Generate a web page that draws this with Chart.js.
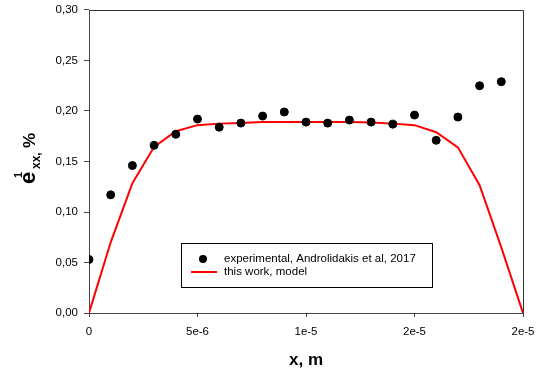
<!DOCTYPE html>
<html>
<head>
<meta charset="utf-8">
<script src="https://cdn.jsdelivr.net/npm/chart.js@4.4.1/dist/chart.umd.min.js"></script>
<style>
  html, body { margin: 0; padding: 0; background: #fff; }
  #wrap { width: 539px; height: 372px; }
</style>
</head>
<body>
<div id="wrap"><canvas id="strainChart" width="539" height="372"></canvas></div>
<script>
// experimental points
const xExp = [0, 1e-6, 2e-6, 3e-6, 4e-6, 5e-6, 6e-6, 7e-6, 8e-6, 9e-6,
              1e-5, 1.1e-5, 1.2e-5, 1.3e-5, 1.4e-5, 1.5e-5, 1.6e-5, 1.7e-5, 1.8e-5, 1.9e-5];
const yExp = [0.053, 0.117, 0.146, 0.166, 0.177, 0.192, 0.184, 0.188, 0.195, 0.199,
              0.189, 0.188, 0.191, 0.189, 0.187, 0.196, 0.171, 0.194, 0.225, 0.229];

// model curve
const xModel = [0, 1e-6, 2e-6, 3e-6, 4e-6, 5e-6, 6e-6, 7e-6, 8e-6, 9e-6, 1e-5,
                1.1e-5, 1.2e-5, 1.3e-5, 1.4e-5, 1.5e-5, 1.6e-5, 1.7e-5, 1.8e-5, 1.9e-5, 2e-5];
const yModel = [0, 0.07, 0.1285, 0.1645, 0.180, 0.186, 0.1875, 0.188, 0.189, 0.189, 0.189,
                0.189, 0.189, 0.1885, 0.1875, 0.186, 0.179, 0.164, 0.1265, 0.065, 0];

const xTickLabels = ['0', '5e-6', '1e-5', '2e-5', '2e-5'];
const yTickLabels = ['0,00', '0,05', '0,10', '0,15', '0,20', '0,25', '0,30'];
const seriesNames = ['experimental, Androlidakis et al, 2017', 'this work, model'];

const FONT = '"Liberation Sans", Arial, sans-serif';

function toPoints(xs, ys) {
    return xs.map((x, i) => ({ x: x, y: ys[i] }));
}

// frame, axis titles and the boxed legend
const decorations = {
    id: 'decorations',
    afterDraw(chart) {
        const ctx = chart.ctx;
        const a = chart.chartArea;
        ctx.save();

        ctx.strokeStyle = '#333';
        ctx.lineWidth = 1;
        ctx.beginPath();
        ctx.moveTo(a.left, a.top + 0.5);
        ctx.lineTo(a.right + 0.5, a.top + 0.5);
        ctx.lineTo(a.right + 0.5, a.bottom);
        ctx.stroke();

        ctx.fillStyle = '#000';

        // x title
        ctx.font = 'bold 17px ' + FONT;
        ctx.textAlign = 'center';
        ctx.textBaseline = 'alphabetic';
        ctx.fillText('x, m', 306, 365);

        // y title e^1_xx, %
        ctx.translate(35, 184);
        ctx.rotate(-Math.PI / 2);
        ctx.textAlign = 'left';
        ctx.font = 'bold 22px ' + FONT;
        ctx.fillText('e', 0, 0);
        ctx.font = 'bold 11px ' + FONT;
        ctx.fillText('1', 6, -13);
        ctx.font = 'bold 12px ' + FONT;
        ctx.fillText('xx,', 15, 5);
        ctx.font = 'bold 17px ' + FONT;
        ctx.fillText('%', 36, 0);
        ctx.setTransform(1, 0, 0, 1, 0, 0);

        // legend
        ctx.strokeStyle = '#000';
        ctx.lineWidth = 1;
        ctx.strokeRect(181.5, 243.5, 251, 44);
        ctx.beginPath();
        ctx.arc(203, 259, 4, 0, Math.PI * 2);
        ctx.fillStyle = '#000';
        ctx.fill();
        ctx.strokeStyle = '#ff0000';
        ctx.lineWidth = 2;
        ctx.beginPath();
        ctx.moveTo(191, 272);
        ctx.lineTo(217, 272);
        ctx.stroke();
        ctx.fillStyle = '#000';
        ctx.font = '11.5px ' + FONT;
        ctx.textBaseline = 'middle';
        ctx.fillText(chart.data.datasets[0].label, 224, 259);
        ctx.fillText(chart.data.datasets[1].label, 224, 272);

        ctx.restore();
    }
};

const ctx = document.getElementById('strainChart').getContext('2d');
new Chart(ctx, {
    type: 'scatter',
    data: {
        datasets: [{
            label: seriesNames[0],
            data: toPoints(xExp, yExp),
            backgroundColor: '#000',
            borderColor: '#000',
            pointRadius: 4,
            showLine: false
        }, {
            label: seriesNames[1],
            data: toPoints(xModel, yModel),
            borderColor: '#ff0000',
            backgroundColor: '#ff0000',
            borderWidth: 2,
            pointRadius: 0,
            showLine: true,
            tension: 0
        }]
    },
    options: {
        responsive: false,
        animation: false,
        layout: { padding: { left: 0, top: 10, right: 16, bottom: 0 } },
        plugins: {
            legend: { display: false },
            tooltip: { enabled: false }
        },
        scales: {
            x: {
                type: 'linear',
                min: 0,
                max: 2e-5,
                afterFit: (scale) => {
                    scale.height = 59;
                    scale.paddingLeft = 0;
                    scale.paddingRight = 0;
                },
                afterBuildTicks: (scale) => {
                    scale.ticks = xTickLabels.map((_, i) => ({ value: i * 5e-6 }));
                },
                ticks: {
                    color: '#000',
                    font: { family: FONT, size: 11.5 },
                    padding: 8,
                    maxRotation: 0,
                    autoSkip: false,
                    callback: (v, i) => xTickLabels[i]
                },
                grid: { drawOnChartArea: false, tickLength: 4, color: '#444' },
                border: { color: '#444', width: 1 }
            },
            y: {
                min: 0,
                max: 0.30,
                afterFit: (scale) => {
                    scale.width = 89;
                    scale.paddingTop = 0;
                    scale.paddingBottom = 0;
                },
                afterBuildTicks: (scale) => {
                    scale.ticks = yTickLabels.map((_, i) => ({ value: i * 0.05 }));
                },
                ticks: {
                    color: '#000',
                    font: { family: FONT, size: 11.5 },
                    padding: 6,
                    autoSkip: false,
                    callback: (v, i) => yTickLabels[i]
                },
                grid: { drawOnChartArea: false, tickLength: 5, color: '#444' },
                border: { color: '#444', width: 1 }
            }
        }
    },
    plugins: [decorations]
});
</script>
</body>
</html>
